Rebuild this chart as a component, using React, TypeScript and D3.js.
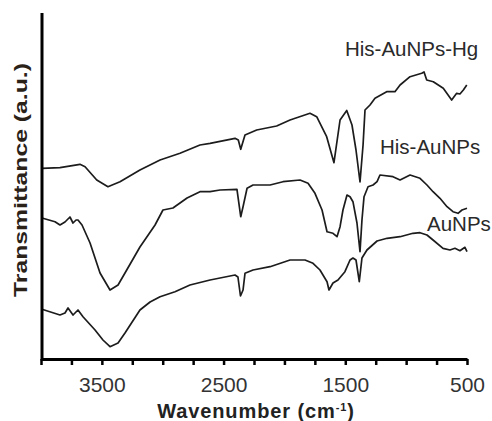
import React, { useEffect, useRef } from "react";
import { select, scaleLinear, axisBottom, line, range } from "d3";

// spectra: [wavenumber, transmittance (a.u.)]
const hgSpectrum: [number, number][] = [
  [3992, 190.7], [3844, 191.3], [3680, 194.7], [3638, 192.3], [3542, 179],
  [3450, 172.3], [3351, 177.3], [3187, 189], [3022, 199], [2858, 205.7],
  [2694, 214], [2611, 215.7], [2406, 220.7], [2379, 219], [2359, 209.7],
  [2324, 224], [2228, 229], [2064, 233], [1954, 239], [1790, 245.7],
  [1735, 242.3], [1653, 222.3], [1593, 196.3], [1543, 239], [1488, 248.5],
  [1445, 234], [1412, 209], [1379, 177], [1354, 214], [1338, 249],
  [1297, 254], [1256, 260.7], [1160, 267.3], [1092, 267.3], [1050, 274],
  [968, 282.3], [872, 285.7], [853, 287], [831, 279], [777, 277.3],
  [695, 270.7], [626, 259], [585, 265.7], [558, 265], [530, 269], [502, 274],
];

const hisSpectrum: [number, number][] = [
  [3992, 141], [3885, 137.3], [3844, 134], [3803, 137], [3762, 142],
  [3737, 136], [3712, 139], [3696, 139], [3663, 134], [3597, 116],
  [3515, 86], [3433, 69], [3367, 74], [3310, 86], [3187, 112],
  [3063, 134], [2998, 149], [2916, 151], [2800, 161], [2694, 167.3],
  [2611, 167.3], [2529, 169], [2390, 169.7], [2359, 142.3], [2340, 152.3],
  [2307, 170.7], [2258, 174], [2118, 174], [2012, 177.3], [1872, 179],
  [1806, 175.7], [1749, 165.7], [1691, 149], [1650, 127.3], [1601, 125.7],
  [1568, 122.3], [1543, 132.3], [1519, 149], [1486, 164], [1461, 162.3],
  [1437, 157.3], [1404, 136], [1379, 107.3], [1363, 139], [1346, 162.3],
  [1313, 172.3], [1272, 174], [1239, 177.3], [1215, 184], [1108, 182.3],
  [1050, 179], [968, 184], [886, 180.7], [829, 174], [779, 167.3],
  [722, 160.7], [664, 152.3], [615, 147.3], [574, 145.7], [541, 149], [500, 150.7],
];

const auSpectrum: [number, number][] = [
  [3992, 49.7], [3844, 44], [3803, 46], [3778, 51], [3737, 44],
  [3696, 49], [3655, 42.3], [3556, 29], [3491, 19], [3433, 12.3],
  [3367, 16], [3310, 26], [3187, 49], [3104, 57], [3022, 62.3],
  [2899, 67.3], [2776, 74], [2611, 79], [2406, 84], [2382, 82],
  [2361, 63], [2340, 69], [2324, 85.7], [2258, 89], [2118, 92.3],
  [1954, 99], [1831, 99], [1765, 95.7], [1708, 89], [1650, 77.3],
  [1634, 69], [1601, 76], [1560, 79], [1503, 87.3], [1461, 99],
  [1437, 101], [1412, 99], [1385, 77.3], [1363, 101], [1322, 109],
  [1239, 118], [1157, 120.7], [1050, 122.3], [944, 125.7], [886, 126.3],
  [829, 124], [779, 119], [697, 110.7], [640, 109], [599, 110.7],
  [558, 108.3], [517, 111.7], [500, 107.3],
];

const seriesNames = ["His-AuNPs-Hg", "His-AuNPs", "AuNPs"];
const labeledTicks = [3500, 2500, 1500, 500];

const font = "'Liberation Sans', Arial, sans-serif";

export default function App() {
  const svgRef = useRef<SVGSVGElement>(null);

  useEffect(() => {
    const svg = select(svgRef.current);
    svg.selectAll("*").remove();

    const x = scaleLinear().domain([4000, 500]).range([41, 467]);
    const y = scaleLinear().domain([0, 346]).range([359, 13]);

    const path = line<[number, number]>()
      .x((d) => x(d[0]))
      .y((d) => y(d[1]));

    const spectra = [hgSpectrum, hisSpectrum, auSpectrum];
    svg
      .selectAll("path.spectrum")
      .data(spectra)
      .join("path")
      .attr("class", "spectrum")
      .attr("d", (d) => path(d))
      .attr("fill", "none")
      .attr("stroke", "#1c1c1c")
      .attr("stroke-width", 1.7)
      .attr("stroke-linejoin", "round");

    // labels next to the spectra
    const labelPos = [
      [345, 56],
      [380, 154],
      [427, 231],
    ];
    svg
      .selectAll("text.series")
      .data(seriesNames)
      .join("text")
      .attr("class", "series")
      .attr("x", (d, i) => labelPos[i][0])
      .attr("y", (d, i) => labelPos[i][1])
      .attr("font-family", font)
      .attr("font-size", 20.5)
      .attr("fill", "#2a2a2a")
      .text((d) => d);

    // x axis
    const xAxis = axisBottom(x)
      .tickValues(range(4000, 499, -250))
      .tickSize(6)
      .tickSizeOuter(0)
      .tickFormat((d) => (labeledTicks.includes(+d) ? String(d) : ""));
    const gx = svg
      .append("g")
      .attr("transform", `translate(0,${y(0)})`)
      .call(xAxis);
    gx.select(".domain").attr("stroke", "#000").attr("stroke-width", 3);
    gx.selectAll(".tick line").attr("stroke", "#000").attr("stroke-width", 2.5);
    gx.selectAll(".tick text")
      .attr("y", 32.5)
      .attr("dy", 0)
      .attr("font-family", font)
      .attr("font-size", 21)
      .attr("fill", "#333");

    // y axis, a bare line
    svg
      .append("line")
      .attr("x1", x(4000) + 1)
      .attr("x2", x(4000) + 1)
      .attr("y1", y.range()[1])
      .attr("y2", y.range()[0] + 1.5)
      .attr("stroke", "#000")
      .attr("stroke-width", 3);

    // axis titles
    const xt = svg
      .append("text")
      .attr("x", 256)
      .attr("y", 418)
      .attr("text-anchor", "middle")
      .attr("font-family", font)
      .attr("font-weight", "bold")
      .attr("font-size", 20)
      .attr("letter-spacing", 0.9)
      .attr("fill", "#222");
    xt.append("tspan").text("Wavenumber (cm");
    xt.append("tspan").attr("dy", -7).attr("font-size", 11).text("-1");
    xt.append("tspan").attr("dy", 7).text(")");

    svg
      .append("text")
      .attr("transform", "translate(27,180) rotate(-90)")
      .attr("text-anchor", "middle")
      .attr("font-family", font)
      .attr("font-weight", "bold")
      .attr("font-size", 18)
      .attr("textLength", 234)
      .attr("lengthAdjust", "spacingAndGlyphs")
      .attr("fill", "#2a2218")
      .text("Transmittance (a.u.)");
  }, []);

  return (
    <svg
      ref={svgRef}
      width={492}
      height={421}
      style={{ position: "absolute", left: 0, top: 0, background: "#fff" }}
    />
  );
}
